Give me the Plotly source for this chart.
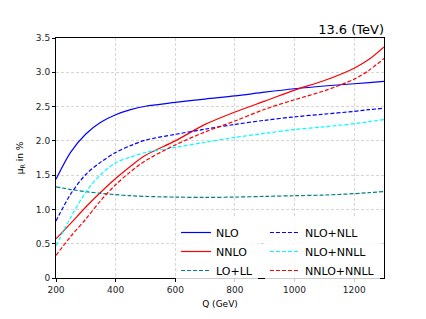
import plotly.graph_objects as go

q = [200, 250, 300, 350, 400, 450, 500, 600, 700, 800, 900, 1000, 1100, 1200, 1250, 1300]

nlo = [1.44, 1.84, 2.10, 2.27, 2.38, 2.455, 2.505, 2.56, 2.61, 2.655, 2.71, 2.76, 2.80, 2.833, 2.85, 2.867]
nnlo = [0.57, 0.80, 1.035, 1.25, 1.45, 1.63, 1.79, 2.00, 2.24, 2.42, 2.58, 2.74, 2.88, 3.06, 3.19, 3.37]
lo_ll = [1.33, 1.29, 1.26, 1.235, 1.215, 1.20, 1.19, 1.18, 1.175, 1.18, 1.19, 1.20, 1.21, 1.23, 1.245, 1.26]
nlo_nll = [0.83, 1.23, 1.51, 1.69, 1.83, 1.93, 2.01, 2.095, 2.17, 2.24, 2.30, 2.35, 2.39, 2.43, 2.455, 2.475]
nlo_nnll = [0.47, 0.89, 1.25, 1.51, 1.68, 1.765, 1.83, 1.905, 1.98, 2.05, 2.11, 2.165, 2.205, 2.25, 2.28, 2.31]
nnlo_nnll = [0.33, 0.61, 0.86, 1.13, 1.36, 1.55, 1.71, 1.94, 2.13, 2.29, 2.46, 2.60, 2.73, 2.90, 3.03, 3.20]

x_ticks = [200, 400, 600, 800, 1000, 1200]
y_ticks = [0, 0.5, 1.0, 1.5, 2.0, 2.5, 3.0, 3.5]
y_labels = ['0', '0.5', '1.0', '1.5', '2.0', '2.5', '3.0', '3.5']

series = [
    ('NLO', nlo, 'blue', 'solid', 'legend'),
    ('NNLO', nnlo, 'red', 'solid', 'legend'),
    ('LO+LL', lo_ll, 'teal', '4px,2px', 'legend'),
    ('NLO+NLL', nlo_nll, 'blue', '4px,2px', 'legend2'),
    ('NLO+NNLL', nlo_nnll, 'cyan', '4px,2px', 'legend2'),
    ('NNLO+NNLL', nnlo_nnll, 'red', '4px,2px', 'legend2'),
]

fig = go.Figure()
for name, ys, col, dash, leg in series:
    fig.add_trace(go.Scatter(
        x=q, y=ys, name=name, mode='lines',
        line=dict(color=col, width=1.2, dash=dash, shape='spline', smoothing=0.9),
        legend=leg,
    ))

axis_style = dict(
    showline=True, linecolor='black', linewidth=1, mirror=True,
    ticks='outside', ticklen=3, tickcolor='black',
    showgrid=True, gridcolor='#d6d6d6', griddash='3px,2px', gridwidth=0.8,
    zeroline=False, tickfont=dict(size=9, color='#222'),
)

leg_style = dict(
    bgcolor='rgba(255,255,255,0.8)', borderwidth=0,
    font=dict(size=11, color='black'), tracegroupgap=0,
    itemwidth=30, yanchor='top',
)

# page has an 8px body margin, so the figure is drawn 8px smaller
fig.update_layout(
    width=418, height=311,
    margin=dict(l=45, r=42, t=30, b=35),
    paper_bgcolor='white', plot_bgcolor='white',
    font=dict(family='DejaVu Sans', color='black'),
    title=dict(text='13.6 (TeV)', xref='paper', x=1, xanchor='right',
               yref='paper', y=1, yanchor='bottom', pad=dict(b=4),
               font=dict(size=13)),
    xaxis=dict(range=[200, 1300], tickvals=x_ticks,
               title=dict(text='Q (GeV)', font=dict(size=9), standoff=6), **axis_style),
    yaxis=dict(range=[0, 3.5], tickvals=y_ticks, ticktext=y_labels,
               title=dict(text='μ<sub>R</sub> in %', font=dict(size=9), standoff=10), **axis_style),
    legend=dict(x=0.366, y=0.25, **leg_style),
    legend2=dict(x=0.637, y=0.25, **leg_style),
)

fig.write_html("out.html")
